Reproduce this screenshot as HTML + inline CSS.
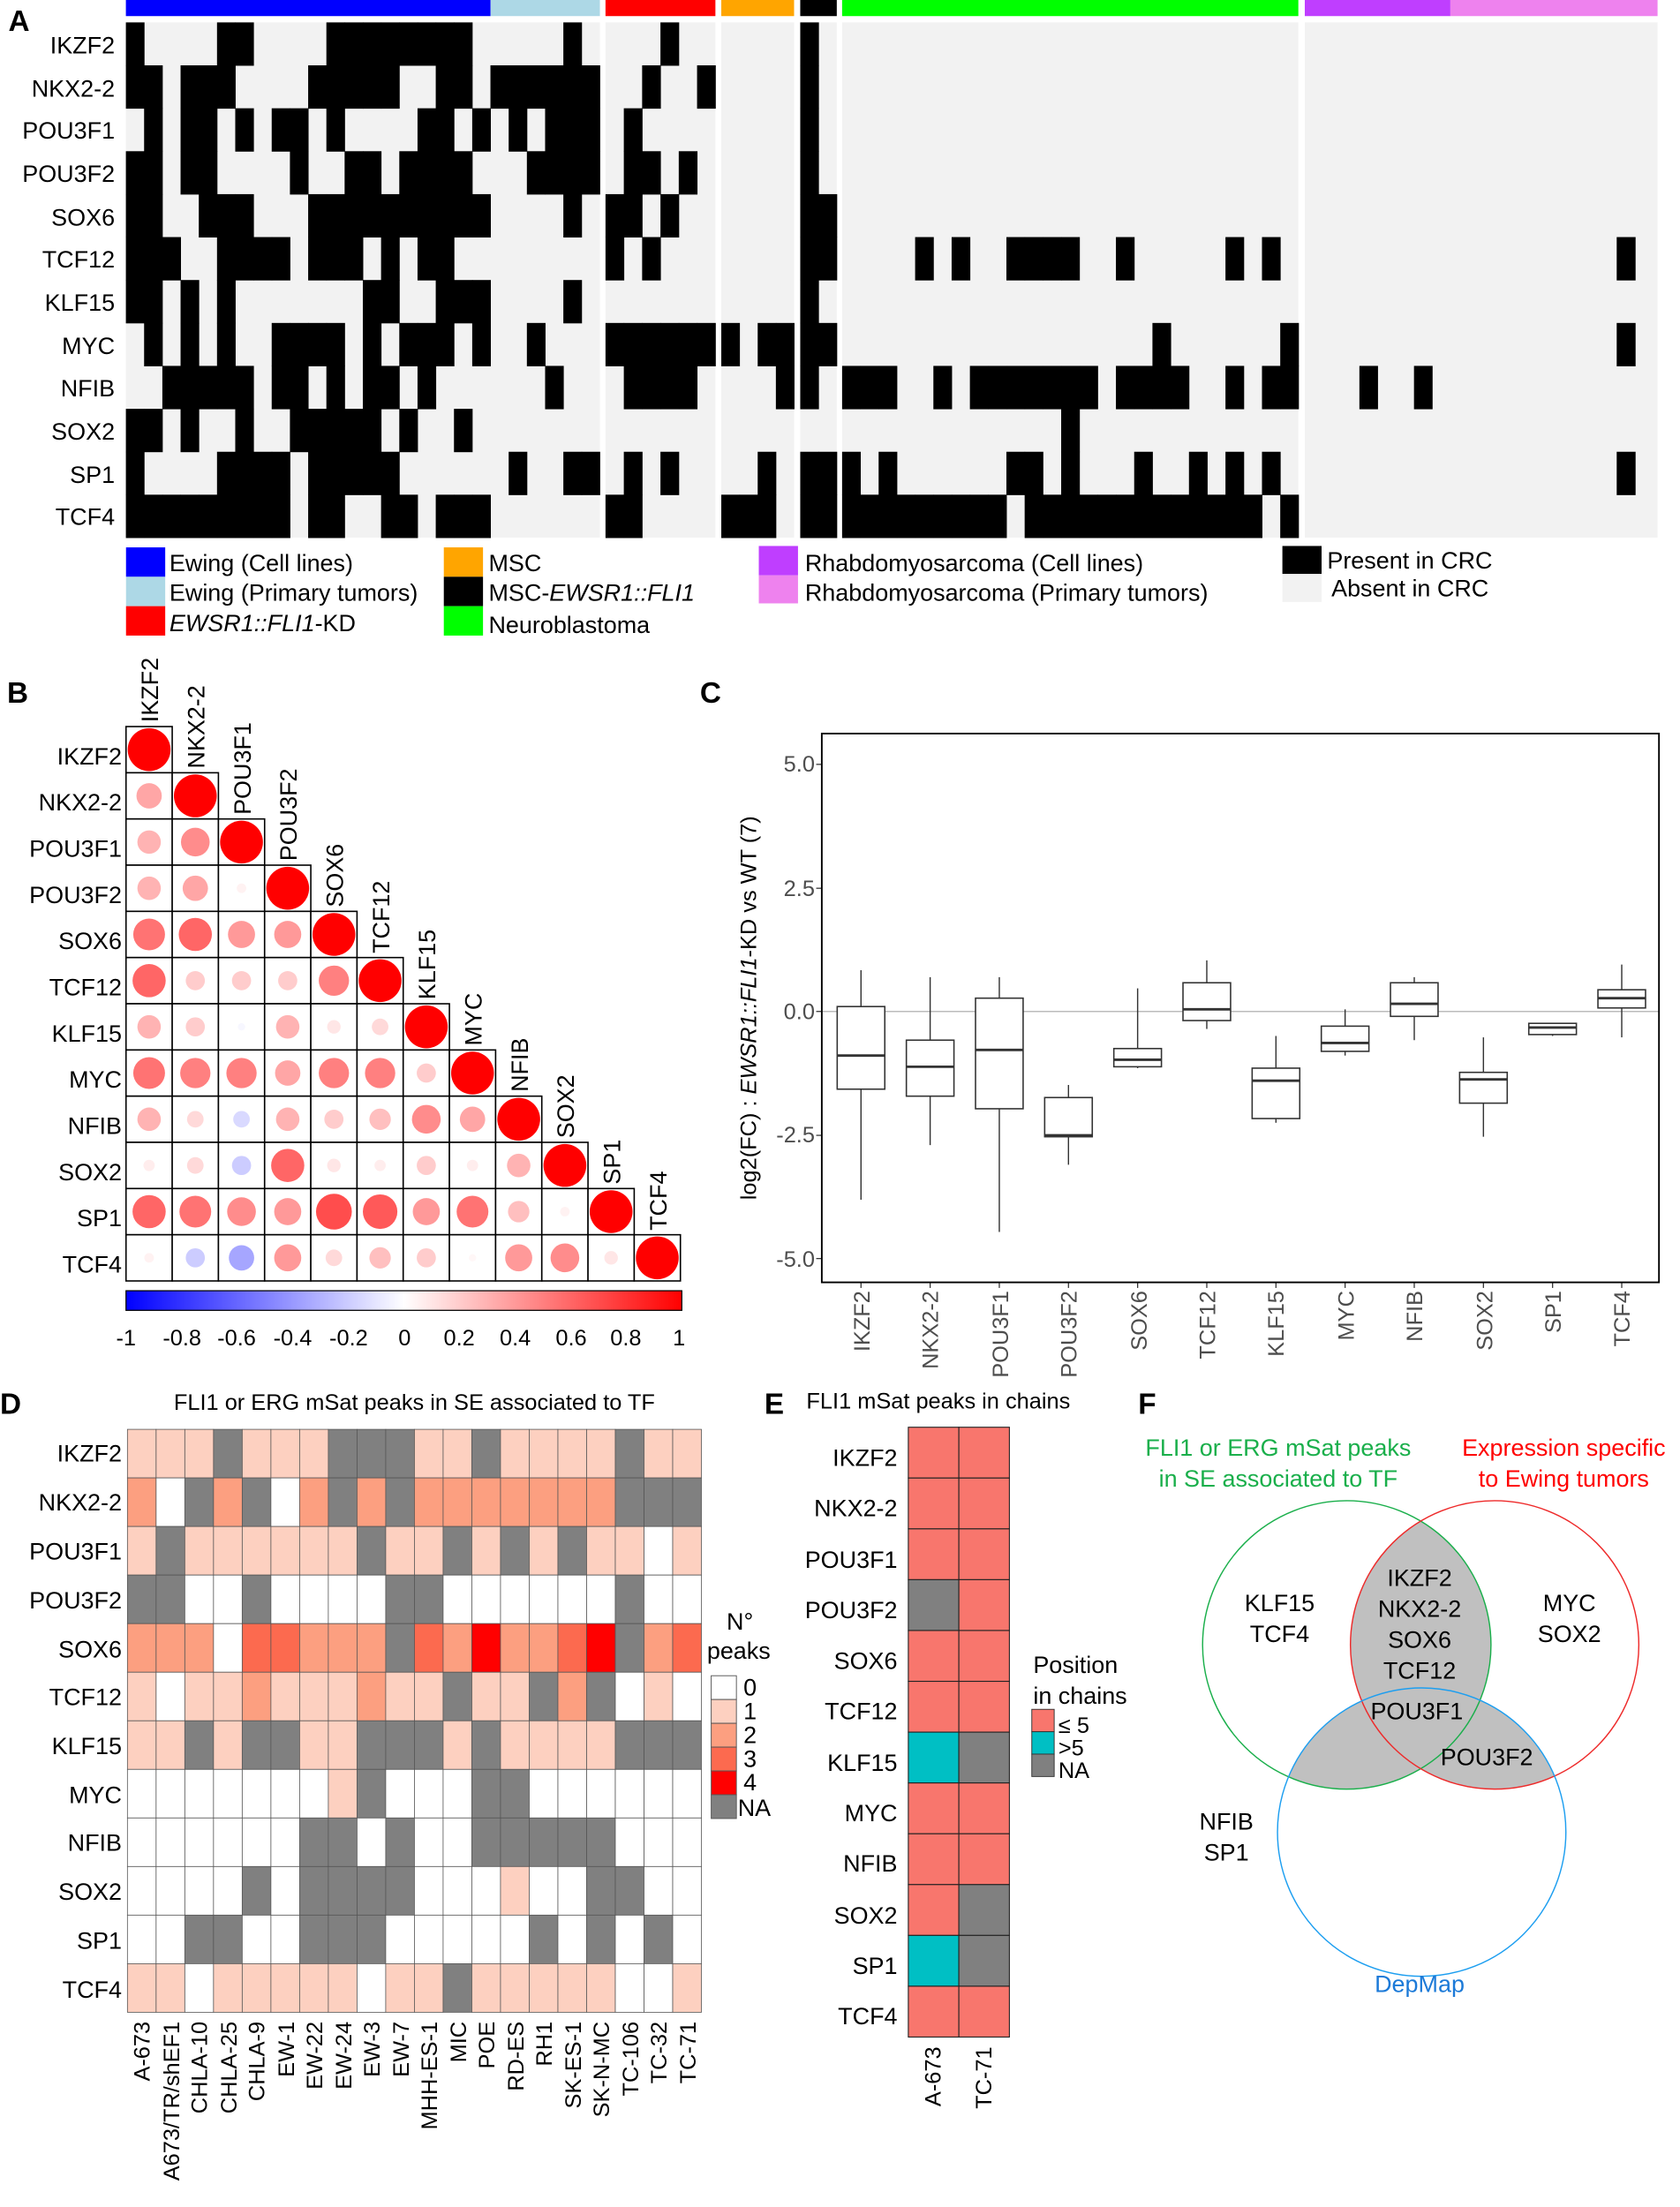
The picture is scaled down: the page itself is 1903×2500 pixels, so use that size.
<!DOCTYPE html>
<html><head><meta charset="utf-8">
<style>
html,body{margin:0;padding:0;background:#fff;}
svg{display:block;font-family:"Liberation Sans",Arial,sans-serif;}
</style></head>
<body>
<svg id="s" xmlns="http://www.w3.org/2000/svg" width="1903" height="2500" viewBox="0 0 1200 1576.5">
<rect width="1200" height="1576.5" fill="#fff"/>
<g id="A"></g>
<!-- Panel A text -->
<g font-size="17" text-anchor="end" fill="#000">
<text x="82" y="38">IKZF2</text><text x="82" y="69">NKX2-2</text><text x="82" y="99">POU3F1</text>
<text x="82" y="130">POU3F2</text><text x="82" y="161">SOX6</text><text x="82" y="191">TCF12</text>
<text x="82" y="222">KLF15</text><text x="82" y="253">MYC</text><text x="82" y="283">NFIB</text>
<text x="82" y="314">SOX2</text><text x="82" y="345">SP1</text><text x="82" y="375">TCF4</text>
</g>
<text x="6" y="22" font-size="21" font-weight="bold">A</text>
<!-- legend A -->
<rect x="90" y="391" width="28" height="21" fill="#0000ff"/>
<rect x="90" y="412" width="28" height="21" fill="#add8e6"/>
<rect x="90" y="433" width="28" height="21" fill="#ff0000"/>
<rect x="317" y="391" width="28" height="21" fill="#ffa500"/>
<rect x="317" y="412" width="28" height="21" fill="#000"/>
<rect x="317" y="433" width="28" height="21" fill="#00ff00"/>
<rect x="542" y="390" width="28" height="21" fill="#bf3eff"/>
<rect x="542" y="411" width="28" height="20" fill="#ee82ee"/>
<rect x="916" y="390" width="28" height="20" fill="#000"/>
<rect x="916" y="410" width="28" height="20" fill="#f2f2f2"/>
<g font-size="17">
<text x="121" y="408">Ewing (Cell lines)</text>
<text x="121" y="429">Ewing (Primary tumors)</text>
<text x="121" y="451" font-style="italic">EWSR1::FLI1<tspan font-style="normal">-KD</tspan></text>
<text x="349" y="408">MSC</text>
<text x="349" y="429">MSC-<tspan font-style="italic">EWSR1::FLI1</tspan></text>
<text x="349" y="452">Neuroblastoma</text>
<text x="575" y="408">Rhabdomyosarcoma (Cell lines)</text>
<text x="575" y="429">Rhabdomyosarcoma (Primary tumors)</text>
<text x="948" y="406">Present in CRC</text>
<text x="951" y="426">Absent in CRC</text>
</g>

<!-- Panel B -->
<text x="5" y="502" font-size="21" font-weight="bold">B</text>
<g id="B"></g>
<g font-size="17" text-anchor="end">
<text x="87" y="546">IKZF2</text><text x="87" y="579">NKX2-2</text><text x="87" y="612">POU3F1</text>
<text x="87" y="645">POU3F2</text><text x="87" y="678">SOX6</text><text x="87" y="711">TCF12</text>
<text x="87" y="744">KLF15</text><text x="87" y="777">MYC</text><text x="87" y="810">NFIB</text>
<text x="87" y="843">SOX2</text><text x="87" y="876">SP1</text><text x="87" y="909">TCF4</text>
</g>
<g font-size="17">
<text transform="translate(113,516) rotate(-90)">IKZF2</text>
<text transform="translate(146,549) rotate(-90)">NKX2-2</text>
<text transform="translate(179,582) rotate(-90)">POU3F1</text>
<text transform="translate(212,615) rotate(-90)">POU3F2</text>
<text transform="translate(245,648) rotate(-90)">SOX6</text>
<text transform="translate(278,681) rotate(-90)">TCF12</text>
<text transform="translate(311,714) rotate(-90)">KLF15</text>
<text transform="translate(344,747) rotate(-90)">MYC</text>
<text transform="translate(377,780) rotate(-90)">NFIB</text>
<text transform="translate(410,813) rotate(-90)">SOX2</text>
<text transform="translate(443,846) rotate(-90)">SP1</text>
<text transform="translate(476,879) rotate(-90)">TCF4</text>
</g>
<defs><linearGradient id="cb" x1="0" x2="1" y1="0" y2="0">
<stop offset="0" stop-color="#0000ff"/><stop offset="0.5" stop-color="#ffffff"/><stop offset="1" stop-color="#ff0000"/></linearGradient></defs>
<rect x="90" y="922" width="397" height="14" fill="url(#cb)" stroke="#000" stroke-width="0.8"/>
<g font-size="16" text-anchor="middle">
<text x="90" y="961">-1</text><text x="130" y="961">-0.8</text><text x="169" y="961">-0.6</text>
<text x="209" y="961">-0.4</text><text x="249" y="961">-0.2</text><text x="289" y="961">0</text>
<text x="328" y="961">0.2</text><text x="368" y="961">0.4</text><text x="408" y="961">0.6</text>
<text x="447" y="961">0.8</text><text x="485" y="961">1</text>
</g>

<!-- Panel C -->
<text x="500" y="502" font-size="21" font-weight="bold">C</text>
<line x1="587" y1="722.5" x2="1185" y2="722.5" stroke="#bbb" stroke-width="1"/>
<g id="C"></g>
<rect x="587" y="524" width="598" height="392" fill="none" stroke="#000" stroke-width="1.2"/>
<g font-size="16" text-anchor="end" fill="#4d4d4d">
<text x="582" y="551">5.0</text><text x="582" y="640">2.5</text><text x="582" y="728">0.0</text>
<text x="582" y="816">-2.5</text><text x="582" y="905">-5.0</text>
</g>
<text transform="translate(540,720) rotate(-90)" font-size="16" text-anchor="middle">log2(FC) :  <tspan font-style="italic">EWSR1::FLI1</tspan>-KD vs WT (7)</text>
<g font-size="16" text-anchor="end" fill="#4d4d4d">
<text transform="translate(621,922) rotate(-90)">IKZF2</text>
<text transform="translate(670,922) rotate(-90)">NKX2-2</text>
<text transform="translate(720,922) rotate(-90)">POU3F1</text>
<text transform="translate(769,922) rotate(-90)">POU3F2</text>
<text transform="translate(819,922) rotate(-90)">SOX6</text>
<text transform="translate(868,922) rotate(-90)">TCF12</text>
<text transform="translate(917,922) rotate(-90)">KLF15</text>
<text transform="translate(967,922) rotate(-90)">MYC</text>
<text transform="translate(1016,922) rotate(-90)">NFIB</text>
<text transform="translate(1066,922) rotate(-90)">SOX2</text>
<text transform="translate(1115,922) rotate(-90)">SP1</text>
<text transform="translate(1164,922) rotate(-90)">TCF4</text>
</g>

<!-- Panel D -->
<text x="0" y="1010" font-size="21" font-weight="bold">D</text>
<text x="296" y="1007" font-size="16" text-anchor="middle">FLI1 or ERG mSat peaks in SE associated to TF</text>
<g id="D"></g>
<g font-size="17" text-anchor="end">
<text x="87" y="1044">IKZF2</text><text x="87" y="1079">NKX2-2</text><text x="87" y="1114">POU3F1</text>
<text x="87" y="1149">POU3F2</text><text x="87" y="1184">SOX6</text><text x="87" y="1218">TCF12</text>
<text x="87" y="1253">KLF15</text><text x="87" y="1288">MYC</text><text x="87" y="1322">NFIB</text>
<text x="87" y="1357">SOX2</text><text x="87" y="1392">SP1</text><text x="87" y="1427">TCF4</text>
</g>
<g font-size="16" text-anchor="end">
<text transform="translate(107,1444) rotate(-90)">A-673</text>
<text transform="translate(128,1444) rotate(-90)">A673/TR/shEF1</text>
<text transform="translate(148,1444) rotate(-90)">CHLA-10</text>
<text transform="translate(169,1444) rotate(-90)">CHLA-25</text>
<text transform="translate(189,1444) rotate(-90)">CHLA-9</text>
<text transform="translate(210,1444) rotate(-90)">EW-1</text>
<text transform="translate(230,1444) rotate(-90)">EW-22</text>
<text transform="translate(251,1444) rotate(-90)">EW-24</text>
<text transform="translate(271,1444) rotate(-90)">EW-3</text>
<text transform="translate(292,1444) rotate(-90)">EW-7</text>
<text transform="translate(312,1444) rotate(-90)">MHH-ES-1</text>
<text transform="translate(333,1444) rotate(-90)">MIC</text>
<text transform="translate(353,1444) rotate(-90)">POE</text>
<text transform="translate(374,1444) rotate(-90)">RD-ES</text>
<text transform="translate(394,1444) rotate(-90)">RH1</text>
<text transform="translate(415,1444) rotate(-90)">SK-ES-1</text>
<text transform="translate(435,1444) rotate(-90)">SK-N-MC</text>
<text transform="translate(456,1444) rotate(-90)">TC-106</text>
<text transform="translate(476,1444) rotate(-90)">TC-32</text>
<text transform="translate(497,1444) rotate(-90)">TC-71</text>
</g>
<text x="519" y="1164" font-size="17">N°</text>
<text x="505" y="1185" font-size="17">peaks</text>
<g stroke="#555" stroke-width="0.6">
<rect x="508" y="1197" width="18" height="17" fill="#fff"/>
<rect x="508" y="1214" width="18" height="17" fill="#fdd0c0"/>
<rect x="508" y="1231" width="18" height="17" fill="#fc9f80"/>
<rect x="508" y="1248" width="18" height="17" fill="#fc6a4f"/>
<rect x="508" y="1265" width="18" height="17" fill="#ff0000"/>
<rect x="508" y="1282" width="18" height="17" fill="#808080"/>
</g>
<g font-size="17">
<text x="531" y="1211">0</text><text x="531" y="1228">1</text><text x="531" y="1245">2</text>
<text x="531" y="1262">3</text><text x="531" y="1279">4</text><text x="527" y="1297">NA</text>
</g>

<!-- Panel E -->
<text x="546" y="1010" font-size="21" font-weight="bold">E</text>
<text x="576" y="1006" font-size="16">FLI1 mSat peaks in chains</text>
<g id="E"></g>
<g font-size="17" text-anchor="end">
<text x="641" y="1047">IKZF2</text><text x="641" y="1083">NKX2-2</text><text x="641" y="1120">POU3F1</text>
<text x="641" y="1156">POU3F2</text><text x="641" y="1192">SOX6</text><text x="641" y="1228">TCF12</text>
<text x="641" y="1265">KLF15</text><text x="641" y="1301">MYC</text><text x="641" y="1337">NFIB</text>
<text x="641" y="1374">SOX2</text><text x="641" y="1410">SP1</text><text x="641" y="1446">TCF4</text>
</g>
<g font-size="16" text-anchor="end">
<text transform="translate(672,1462) rotate(-90)">A-673</text>
<text transform="translate(708,1462) rotate(-90)">TC-71</text>
</g>
<text x="738" y="1195" font-size="17">Position</text>
<text x="738" y="1217" font-size="17">in chains</text>
<g stroke="#333" stroke-width="0.6">
<rect x="737" y="1221" width="16" height="16" fill="#f8766d"/>
<rect x="737" y="1237" width="16" height="16" fill="#00bfc4"/>
<rect x="737" y="1253" width="16" height="16" fill="#808080"/>
</g>
<g font-size="16"><text x="756" y="1238">≤ 5</text><text x="756" y="1254">&gt;5</text><text x="756" y="1270">NA</text></g>

<!-- Panel F -->
<text x="813" y="1010" font-size="21" font-weight="bold">F</text>
<defs>
<clipPath id="cg"><circle cx="962" cy="1175" r="103"/></clipPath>
<clipPath id="cr"><circle cx="1067.6" cy="1175" r="103"/></clipPath>
</defs>
<circle cx="1067.6" cy="1175" r="103" fill="#c0c0c0" clip-path="url(#cg)"/>
<circle cx="1015.5" cy="1308.7" r="103" fill="#c0c0c0" clip-path="url(#cg)"/>
<circle cx="1015.5" cy="1308.7" r="103" fill="#c0c0c0" clip-path="url(#cr)"/>
<circle cx="962" cy="1175" r="103" fill="none" stroke="#1aaf4b" stroke-width="0.9"/>
<circle cx="1067.6" cy="1175" r="103" fill="none" stroke="#ee2a2a" stroke-width="0.9"/>
<circle cx="1015.5" cy="1308.7" r="103" fill="none" stroke="#1c9ef0" stroke-width="0.9"/>
<g font-size="17" text-anchor="middle">
<text x="913" y="1040" fill="#1aaf4b">FLI1 or ERG mSat peaks</text>
<text x="913" y="1062" fill="#1aaf4b">in SE associated to TF</text>
<text x="1117" y="1040" fill="#ff0000">Expression specific</text>
<text x="1117" y="1062" fill="#ff0000">to Ewing tumors</text>
<text x="914" y="1151">KLF15</text><text x="914" y="1173">TCF4</text>
<text x="1014" y="1133">IKZF2</text><text x="1014" y="1155">NKX2-2</text>
<text x="1014" y="1177">SOX6</text><text x="1014" y="1199">TCF12</text>
<text x="1121" y="1151">MYC</text><text x="1121" y="1173">SOX2</text>
<text x="1012" y="1228">POU3F1</text>
<text x="1062" y="1261">POU3F2</text>
<text x="876" y="1307">NFIB</text><text x="876" y="1329">SP1</text>
<text x="1014" y="1423" fill="#1c7ad8">DepMap</text>
</g>

<script>
(function(){
var NS="http://www.w3.org/2000/svg";
function el(p,t,a){var e=document.createElementNS(NS,t);for(var k in a)e.setAttribute(k,a[k]);p.appendChild(e);return e;}
// Panel A
var A=document.getElementById('A');
var groups={e:[89.9,13.02,26],r:[432.5,13.08,6],o:[515.2,13.0,4],k:[571.6,13.05,2],g:[601.5,13.04,25],p:[932,13.0,19.3]};
var regions=[[89.9,428.5],[432.5,511],[515.2,567.2],[571.6,597.7],[601.5,927.4],[932,1184]];
regions.forEach(function(r){el(A,'rect',{x:r[0],y:16,width:r[1]-r[0],height:368,fill:'#f2f2f2'});});
var bars=[[89.9,350.4,'#0000ff'],[350.4,428.5,'#add8e6'],[432.5,511,'#ff0000'],[515.2,567.2,'#ffa500'],[571.6,597.7,'#000'],[601.5,927.4,'#00ff00'],[932,1036,'#bf3eff'],[1036,1184,'#ee82ee']];
bars.forEach(function(b){el(A,'rect',{x:b[0],y:0,width:b[1]-b[0],height:11.5,fill:b[2]});});
var rows=[
 {e:[0,5,6,11,12,13,14,15,16,17,18,24],r:[3],k:[0]},
 {e:[0,1,3,4,5,10,11,12,13,14,17,18,20,21,22,23,24,25],r:[2,5],k:[0]},
 {e:[1,3,4,6,8,9,11,16,17,19,21,23,24,25],r:[1],k:[0]},
 {e:[0,1,3,4,9,12,13,15,16,17,18,22,23,24,25],r:[1,2,4],k:[0]},
 {e:[0,1,4,5,6,10,11,12,13,14,15,16,17,18,19,24],r:[0,1,3],k:[0,1]},
 {e:[0,1,2,5,6,7,8,10,11,12,14,16,17],r:[0,2],k:[0,1],g:[4,6,9,10,11,12,15,21,23],p:[9]},
 {e:[0,1,3,5,13,14,17,18,19,24],k:[0]},
 {e:[1,3,5,8,9,10,11,13,15,16,17,19,22],r:[0,1,2,3,4,5],o:[0,2,3],k:[0,1],g:[17,24],p:[9]},
 {e:[2,3,4,5,6,8,9,11,13,14,16,23],r:[1,2,3,4],o:[3],k:[0],g:[0,1,2,5,7,8,9,10,11,12,13,15,16,17,18,21,23,24],u:[3,6]},
 {e:[0,1,3,6,9,10,11,12,13,15,18],g:[12]},
 {e:[0,5,6,7,8,10,11,12,13,14,21,24,25],r:[1,3],o:[2],k:[0,1],g:[0,2,9,10,12,16,19,21,23],p:[9]},
 {e:[0,1,2,3,4,5,6,7,8,10,11,14,15,17,18,19],r:[0,1],o:[0,1,2],k:[0,1],g:[0,1,2,3,4,5,6,7,8,10,11,12,13,14,15,16,17,18,19,20,21,22,24]}
];
var gx={e:[89.9,13.02],r:[432.5,13.08],o:[515.2,13.0],k:[571.6,13.05],g:[601.5,13.04],u:[932,13.0],p:[1036,13.2]};
rows.forEach(function(r,i){var y=16+30.67*i;for(var key in r){r[key].forEach(function(j){el(A,'rect',{x:gx[key][0]+gx[key][1]*j,y:y,width:gx[key][1]+0.3,height:30.97,fill:'#000'});});}});
// Panel B
var B=document.getElementById('B');
var cor=[[],[0.35],[0.3,0.45],[0.3,0.35,0.05],[0.55,0.6,0.4,0.4],[0.6,0.2,0.2,0.2,0.5],[0.3,0.2,-0.03,0.3,0.1,0.15],[0.55,0.5,0.5,0.35,0.5,0.5,0.2],[0.3,0.15,-0.15,0.3,0.2,0.25,0.45,0.35],[0.07,0.15,-0.2,0.6,0.1,0.07,0.2,0.07,0.3],[0.6,0.55,0.45,0.4,0.7,0.65,0.4,0.55,0.25,0.05],[0.05,-0.2,-0.35,0.4,0.15,0.25,0.2,0.03,0.4,0.45,0.1]];
for(var i=0;i<12;i++){for(var j=0;j<=i;j++){var x=90+33*j,y=519+33*i;el(B,'rect',{x:x,y:y,width:33,height:33,fill:'#fff',stroke:'#000','stroke-width':1});
 var v=(i==j)?1:cor[i][j];var a=Math.abs(v);var c;
 if(v>=0){var q=Math.round(255*(1-v));c='rgb(255,'+q+','+q+')';}else{var q=Math.round(255*(1-a));c='rgb('+q+','+q+',255)';}
 el(B,'circle',{cx:x+16.5,cy:y+16.5,r:15.3*Math.sqrt(a),fill:c});}}
// Panel C
var C=document.getElementById('C');
var bx=[[693,719,754,778,857],[698,743,762,783,818],[698,713,750,792,880],[775,784,811,812,832],[706,749,757,762,763],[686,702,721,729,735],[740,763,772,799,802],[721,733,745,751,754],[698,702,717,726,743],[741,766,771,788,812],[731,731,734,739,740],[689,707,713,720,741]];
bx.forEach(function(b,i){var cx=615+49.4*i;
 el(C,'line',{x1:cx,y1:b[0],x2:cx,y2:b[4],stroke:'#333','stroke-width':0.9});
 el(C,'rect',{x:cx-17,y:b[1],width:34,height:b[3]-b[1],fill:'#fff',stroke:'#333','stroke-width':1});
 el(C,'line',{x1:cx-17,y1:b[2],x2:cx+17,y2:b[2],stroke:'#333','stroke-width':1.8});
 el(C,'line',{x1:cx,y1:916,x2:cx,y2:920,stroke:'#333','stroke-width':0.8});});
[546,634.5,722.5,811,899].forEach(function(y){el(C,'line',{x1:583,y1:y,x2:587,y2:y,stroke:'#333','stroke-width':0.8});});
// Panel D
var D=document.getElementById('D');
var dv=["111N111NNN11N1111N11","20N2N02N2N2222222NNN","1N111111N11N1N1N1101","NN00N0000NN000000N00","22203322N3242234N23","10112111211N11N2N010","11N1NN11NNN1N1111NNN","00000001N000NN000000","000000NN0N00NNNNN000","0000N0NNNN000100NN00","00NN00NNN00000N0N0N0","11011111011N11111001"];
dv[4]="22203322 2N3242234N23".replace(' ','');
var dc={'0':'#ffffff','1':'#fdd0c0','2':'#fc9f80','3':'#fc6a4f','4':'#ff0000','N':'#808080'};
dv[4]="222033222N3242234N23".slice(0,20);
// row SOX6 explicit
dv[4]="2220332 22N3242234N23".replace(' ','');
var sox6=['2','2','2','0','3','3','2','2','2','N','3','2','4','2','2','3','4','N','2','3'];
for(var i=0;i<12;i++){for(var j=0;j<20;j++){var ch=(i==4)?sox6[j]:dv[i].charAt(j);
 el(D,'rect',{x:91+20.5*j,y:1021+34.7*i,width:20.5,height:34.7,fill:dc[ch]||'#fff',stroke:'#555','stroke-width':0.5});}}
// Panel E
var E=document.getElementById('E');
var ev=[["s","s"],["s","s"],["s","s"],["n","s"],["s","s"],["s","s"],["t","n"],["s","s"],["s","s"],["s","n"],["t","n"],["s","s"]];
var ec={s:'#f8766d',t:'#00bfc4',n:'#808080'};
ev.forEach(function(r,i){r.forEach(function(v,j){el(E,'rect',{x:648.8+36.1*j,y:1019.5+36.3*i,width:36.1,height:36.3,fill:ec[v],stroke:'#222','stroke-width':0.7});});});
})();
</script>
</svg>
</body></html>
